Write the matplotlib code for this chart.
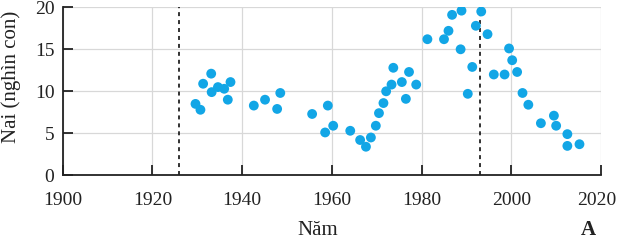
import matplotlib
matplotlib.use("Agg")
import matplotlib.pyplot as plt
import matplotlib.transforms as mtransforms

years = [1929.6, 1930.7, 1931.3, 1933.1, 1933.2, 1934.6, 1936.0, 1936.8, 1937.4,
         1942.6, 1945.1, 1947.8, 1948.5,
         1955.6, 1958.5, 1959.1, 1960.3, 1964.1, 1966.3, 1967.6, 1968.7, 1969.8,
         1970.5, 1971.5, 1972.1, 1973.3, 1973.7, 1975.6, 1976.5, 1977.2, 1978.8,
         1981.3, 1985.0, 1986.0, 1986.8, 1988.9, 1988.7, 1990.3, 1991.3, 1992.1,
         1993.3, 1994.7, 1996.1, 1998.5, 1999.5, 2000.2, 2001.3, 2002.5, 2003.8,
         2006.6, 2009.5, 2010.0, 2012.5, 2012.5, 2015.2]
moose = [8.5, 7.8, 10.9, 12.1, 9.9, 10.5, 10.3, 9.0, 11.1,
         8.3, 9.0, 7.9, 9.8,
         7.3, 5.1, 8.3, 5.9, 5.3, 4.2, 3.4, 4.5, 5.9,
         7.4, 8.6, 10.0, 10.8, 12.8, 11.1, 9.1, 12.3, 10.8,
         16.2, 16.2, 17.2, 19.1, 19.6, 15.0, 9.7, 12.9, 17.8,
         19.5, 16.8, 12.0, 12.0, 15.1, 13.7, 12.3, 9.8, 8.4,
         6.2, 7.1, 5.9, 4.9, 3.5, 3.7]
event_years = [1926, 1993]
xticks = [1900, 1920, 1940, 1960, 1980, 2000, 2020]
yticks = [0, 5, 10, 15, 20]

plt.rcParams['font.family'] = ['Liberation Serif', 'DejaVu Serif']

fig = plt.figure(figsize=(6.18, 2.4), dpi=100)
ax = fig.add_axes([0.1015, 0.2696, 0.8710, 0.7000])

ax.scatter(years, moose, s=50, color='#12a6e6', edgecolors='none', zorder=3)
for ey in event_years:
    ax.axvline(ey, color='#222222', lw=1.3, ls=(0, (2.2, 2.2)), zorder=2)

ax.set_xlim(1900, 2020)
ax.set_ylim(0, 20)
ax.set_xticks(xticks)
ax.set_yticks(yticks)
ax.grid(True, color='#d8d8d8', lw=0.9, zorder=0)
for s in ['top', 'right']:
    ax.spines[s].set_visible(False)
for s in ['left', 'bottom']:
    ax.spines[s].set_linewidth(1.3)
    ax.spines[s].set_color('#222222')
ax.tick_params(direction='in', length=7, width=1.3, color='#222222',
               labelsize=14, labelcolor='#222222')
ax.tick_params(axis='x', pad=12)
ax.tick_params(axis='y', pad=6)

# nudge the last x tick label slightly left so it stays inside the figure
last = ax.get_xticklabels()[-1]
last.set_transform(last.get_transform() +
                   mtransforms.ScaledTranslation(-4 / 100, 0, fig.dpi_scale_trans))

fig.text(11 / 618, 1 - 77 / 240, 'Nai (nghìn con)', fontsize=15, rotation=90,
         ha='center', va='center', color='#222222')
fig.text(318 / 618, 1 - 235 / 240, 'Năm', fontsize=15, ha='center',
         va='baseline', color='#222222')
fig.text(588 / 618, 1 - 235 / 240, 'A', fontsize=15, fontweight='bold',
         ha='center', va='baseline', color='#222222')

fig.savefig('out.png', dpi=100)
